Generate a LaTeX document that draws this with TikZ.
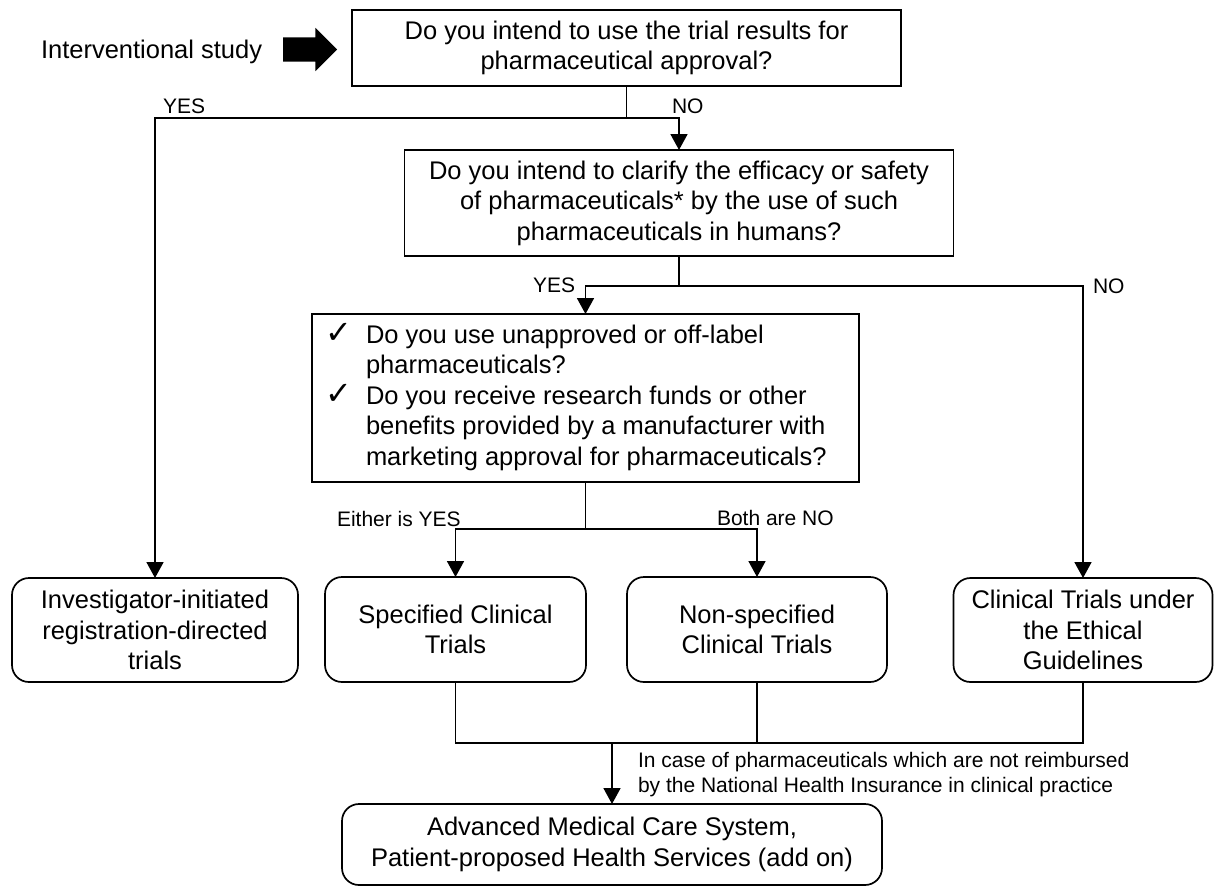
\documentclass[tikz,border=0pt]{standalone}
\usepackage{fontspec}
\setmainfont{Liberation Sans}
\newfontfamily\symfont{DejaVu Sans}
\usetikzlibrary{arrows.meta,shapes.arrows,calc}
\tikzset{
  every node/.style={inner sep=0pt, outer sep=0pt},
  qbox/.style={draw, line width=1.7pt, align=center, font=\fontsize{25.5}{30.5}\selectfont},
  rbox/.style={qbox, rounded corners=17pt},
  lbl/.style={font=\fontsize{21}{25}\selectfont},
  link/.style={line width=1.7pt},
  arr/.style={link, -{Triangle[length=16pt,width=17pt]}},
  chk/.style={},
}
\newcommand{\chkmark}{{\symfont\fontsize{32}{32}\selectfont ✓}}
\begin{document}
\begin{tikzpicture}[x=1pt,y=-1pt]
\useasboundingbox (0,0) rectangle (1215,887);

% start
\node[font=\fontsize{25.5}{30.5}\selectfont, anchor=base west] (intv) at (41,58) {Interventional study};
\node[single arrow, fill=black, inner xsep=0pt, inner ysep=12pt, minimum height=54pt,
      single arrow head extend=9.5pt, anchor=west] (blk) at (283,49.5) {};

% questions
\node[qbox, minimum width=549pt, minimum height=76pt] (q1) at (626.5,48)
  {Do you intend to use the trial results for\\pharmaceutical approval?};
\node[qbox, minimum width=549pt, minimum height=106pt] (q2) at (679,203)
  {Do you intend to clarify the efficacy or safety\\of pharmaceuticals* by the use of such\\pharmaceuticals in humans?};
\node[qbox, align=left, inner xsep=13pt, minimum height=168pt] (q3) at (585.5,398)
  {\begin{tabular}{@{}p{41pt}@{}p{480pt}@{}}
   \chkmark & Do you use unapproved or off-label\\
   & pharmaceuticals?\\
   \chkmark & Do you receive research funds or other\\
   & benefits provided by a manufacturer with\\
   & marketing approval for pharmaceuticals?
   \end{tabular}};

% outcomes
\node[rbox, minimum width=286pt, minimum height=104pt] (tA) at (155,630)
  {Investigator-initiated\\registration-directed\\trials};
\node[rbox, minimum width=261pt, minimum height=105pt] (tB) at (455.5,629.5)
  {Specified Clinical\\Trials};
\node[rbox, minimum width=260pt, minimum height=105pt] (tC) at (757,629.5)
  {Non-specified\\Clinical Trials};
\node[rbox, minimum width=259pt, minimum height=104pt] (tD) at (1083,630)
  {Clinical Trials under\\the Ethical\\Guidelines};
\node[rbox, minimum width=540pt, minimum height=81pt] (tE) at (612,844.5)
  {Advanced Medical Care System,\\Patient-proposed Health Services (add on)};

% connectors
\coordinate (j1) at (626.5,118);
\draw[link] (q1.south) -- (j1);
\draw[arr] (j1) -| (tA.north);
\draw[arr] (j1) -| (q2.north);

\coordinate (j2) at (679,286);
\draw[link] (q2.south) -- (j2);
\draw[arr] (j2) -| (q3.north);
\draw[arr] (j2) -| (tD.north);

\coordinate (j3) at (585.5,529);
\draw[link] (q3.south) -- (j3);
\draw[arr] (j3) -| (tB.north);
\draw[arr] (j3) -| (tC.north);

\coordinate (j4) at (612,743);
\draw[link] (tB.south) |- (tD.south |- j4) -- (tD.south);
\draw[link] (tC.south) -- (tC.south |- j4);
\draw[arr] (j4) -- (tE.north);

% labels
\node[lbl, anchor=base west] (lyes1) at (163,113.5) {YES};
\node[lbl, anchor=base west] (lno1) at (672,113.5) {NO};
\node[lbl, anchor=base west] (lyes2) at (533,292.5) {YES};
\node[lbl, anchor=base west] (lno2) at (1093,293.5) {NO};
\node[lbl, anchor=base west] (leither) at (337,526.5) {Either is YES};
\node[lbl, anchor=base west] (lboth) at (717,525.5) {Both are NO};
\node[lbl, anchor=north west, align=left] (note) at (638,752.5)
  {In case of pharmaceuticals which are not reimbursed\\by the National Health Insurance in clinical practice};
\end{tikzpicture}
\end{document}
